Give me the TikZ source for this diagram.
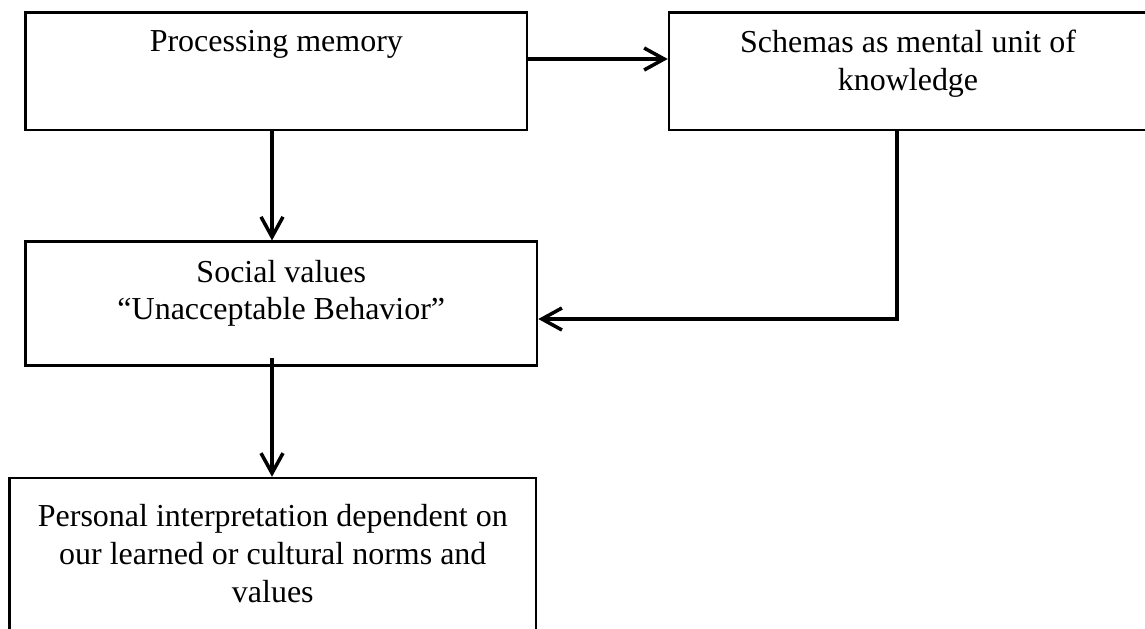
\documentclass[tikz,border=0pt]{standalone}
\usepackage{fontspec}
\setmainfont{Liberation Serif}
\usetikzlibrary{arrows.meta, positioning}

\begin{document}
\begin{tikzpicture}[
  box/.style={draw, line width=1.4pt, rectangle, inner sep=0pt},
  txt/.style={inner sep=0pt, align=center, font=\fontsize{18.2pt}{21.5pt}\selectfont},
  arr/.style={-{Straight Barb[length=4mm, width=4.4mm]}, line width=2pt}
]

% Page frame
\useasboundingbox (0,0) rectangle (22.9,-12.56);

% Draw boxes
\node[box, minimum width=10.03cm, minimum height=2.354cm] (proc) at (5.527,-1.423) {};
\node[box, minimum width=9.56cm, minimum height=2.354cm] (schema) at (18.16,-1.423) {};
\node[box, minimum width=10.23cm, minimum height=2.48cm] (social) at (5.626,-6.074) {};
\node[box, minimum width=10.53cm, minimum height=3.24cm] (personal) at (5.456,-11.18) {};

% Texts, hung from the top edge of each box
\node[txt, below=0.38cm of proc.north] (proctext) {Processing memory};
\node[txt, below=0.38cm of schema.north] (schematext) {Schemas as mental unit of\\knowledge};
\node[txt, below=0.38cm of social.north] (socialtext) {Social values\\``Unacceptable Behavior''};
\node[txt, below=0.55cm of personal.north] (personaltext) {Personal interpretation dependent on\\our learned or cultural norms and\\values};

% Helper coordinates for the connectors
\coordinate (spine) at (5.44,0);
\coordinate (row) at (0,-1.18);
\coordinate (bend) at (17.94,-6.38);

% Draw connectors
\draw[arr] (proc.east |- row) -- (schema.west |- row);
\draw[arr] (proc.south -| spine) -- (social.north -| spine);
\draw[arr] (schema.south -| bend) |- (social.east |- bend);
\draw[arr, shorten <=-0.18cm] (social.south -| spine) -- (personal.north -| spine);

\end{tikzpicture}
\end{document}
